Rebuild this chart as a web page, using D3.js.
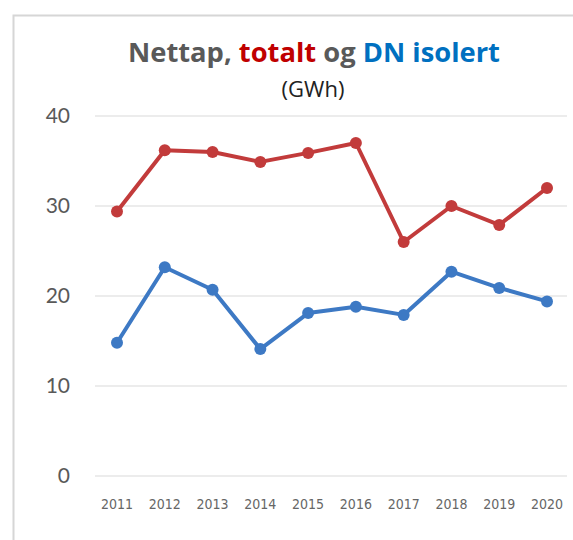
<!DOCTYPE html>
<html>
<head>
<meta charset="utf-8">
<script src="https://cdn.jsdelivr.net/npm/d3@7"></script>
<style>
  body { margin: 0; background: #fff; }
  svg { display: block; font-family: Lato, "Open Sans", sans-serif; }
</style>
</head>
<body>
<div id="chart"></div>
<script>
const years = ['2011', '2012', '2013', '2014', '2015', '2016', '2017', '2018', '2019', '2020'];
const totalt = [29.4, 36.2, 36.0, 34.9, 35.9, 37.0, 26.0, 30.0, 27.9, 32.0];
const dnIsolert = [14.8, 23.2, 20.7, 14.1, 18.1, 18.8, 17.9, 22.7, 20.9, 19.4];
const yTicks = [0, 10, 20, 30, 40];

const w = 573, h = 540;
const grey = '#595959';

const svg = d3.select('#chart').append('svg')
    .attr('width', w)
    .attr('height', h);

// outer frame
svg.append('rect')
    .attr('x', 13.5).attr('y', 15.5)
    .attr('width', w + 20).attr('height', h + 20)
    .attr('fill', 'none')
    .attr('stroke', '#d6d6d6')
    .attr('stroke-width', 2);

const x = d3.scalePoint()
    .domain(years)
    .range([117, 547]);

const y = d3.scaleLinear()
    .domain([0, 40])
    .range([476, 116]);

// gridlines
svg.append('g')
    .selectAll('line')
    .data(yTicks)
    .join('line')
    .attr('x1', 95).attr('x2', 567)
    .attr('y1', (d) => y(d)).attr('y2', (d) => y(d))
    .attr('stroke', '#e6e6e6')
    .attr('stroke-width', 1.5);

// y labels
svg.append('g')
    .selectAll('text')
    .data(yTicks)
    .join('text')
    .attr('x', 70)
    .attr('y', (d) => y(d))
    .attr('dy', '0.35em')
    .attr('text-anchor', 'end')
    .attr('fill', grey)
    .style('font-size', '21px')
    .text((d) => d);

// x labels
svg.append('g')
    .selectAll('text')
    .data(years)
    .join('text')
    .attr('x', (d) => x(d))
    .attr('y', 509)
    .attr('text-anchor', 'middle')
    .attr('fill', '#666')
    .style('font-family', '"Liberation Sans Narrow", "DejaVu Sans Condensed", sans-serif')
    .style('font-size', '14px')
    .text((d) => d);

const series = [
    { values: totalt, color: '#c23b3b' },
    { values: dnIsolert, color: '#3d79c4' }
];

const line = d3.line()
    .x((d, i) => x(years[i]))
    .y((d) => y(d));

series.forEach((s) => {
    svg.append('path')
        .datum(s.values)
        .attr('d', line)
        .attr('fill', 'none')
        .attr('stroke', s.color)
        .attr('stroke-width', 4)
        .attr('stroke-linejoin', 'round');

    svg.append('g')
        .selectAll('circle')
        .data(s.values)
        .join('circle')
        .attr('cx', (d, i) => x(years[i]))
        .attr('cy', (d) => y(d))
        .attr('r', 6)
        .attr('fill', s.color);
});

// title
const title = svg.append('text')
    .attr('x', 314)
    .attr('y', 62)
    .attr('text-anchor', 'middle')
    .style('font-family', '"Open Sans", sans-serif')
    .style('font-size', '27px')
    .style('font-weight', 'bold')
    .attr('textLength', 372)
    .attr('lengthAdjust', 'spacingAndGlyphs');
title.append('tspan').attr('fill', grey).text('Nettap, ');
title.append('tspan').attr('fill', '#c00000').text('totalt');
title.append('tspan').attr('fill', grey).text(' og ');
title.append('tspan').attr('fill', '#0070c0').text('DN isolert');

svg.append('text')
    .attr('x', 313)
    .attr('y', 97)
    .attr('text-anchor', 'middle')
    .attr('fill', '#222')
    .style('font-family', '"Open Sans", sans-serif')
    .style('font-size', '22px')
    .text('(GWh)');
</script>
</body>
</html>
